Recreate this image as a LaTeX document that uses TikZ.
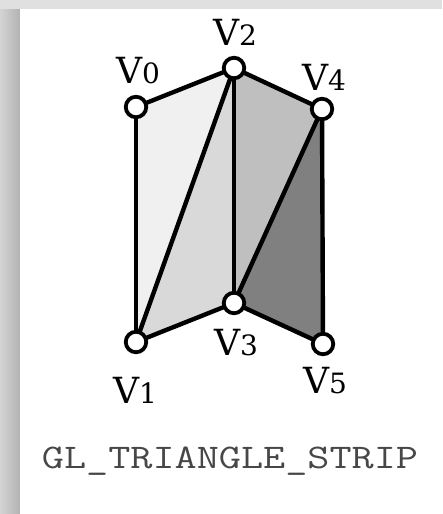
\documentclass[tikz,border=0pt]{standalone}
\usepackage{fontspec}
\setmainfont{DejaVu Serif}
\begin{document}
\begin{tikzpicture}[x=1pt,y=-1pt,
  edge/.style={line width=4.4pt,line join=round,line cap=round},
  vert/.style={circle,draw=black,fill=white,line width=3.8pt,minimum size=20.5pt,inner sep=0pt},
  vlabel/.style={anchor=base,inner sep=0pt,text=black},
  tri/.style={draw=none}]
\useasboundingbox (0,0) rectangle (442,514);
% frame
\fill[black!12] (0,0) rectangle (442,514);
\shade[left color=black!17,right color=black!30] (0,9) rectangle (20,514);
\fill[white] (20,9) rectangle (442,514);
% vertex positions
\coordinate (p0) at (136,107);
\coordinate (p1) at (136,342);
\coordinate (p2) at (234,68);
\coordinate (p3) at (234,303);
\coordinate (p4) at (322,109);
\coordinate (p5) at (323,344);
% triangles
\fill[tri,fill=black!6]  (p0) -- (p1) -- (p2) -- cycle;
\fill[tri,fill=black!15] (p1) -- (p2) -- (p3) -- cycle;
\fill[tri,fill=black!25] (p2) -- (p3) -- (p4) -- cycle;
\fill[tri,fill=black!50] (p3) -- (p4) -- (p5) -- cycle;
% edges
\draw[edge] (p0) -- (p2);
\draw[edge] (p2) -- (p4);
\draw[edge] (p0) -- (p1);
\draw[edge] (p1) -- (p2);
\draw[edge] (p2) -- (p3);
\draw[edge] (p1) -- (p3);
\draw[edge] (p3) -- (p4);
\draw[edge] (p3) -- (p5);
\draw[edge] (p4) -- (p5);
% vertices
\node[vert] (v0) at (p0) {};
\node[vert] (v1) at (p1) {};
\node[vert] (v2) at (p2) {};
\node[vert] (v3) at (p3) {};
\node[vert] (v4) at (p4) {};
\node[vert] (v5) at (p5) {};
% labels
\newcommand{\vl}[1]{\fontsize{36}{36}\selectfont V\fontsize{28}{28}\selectfont #1}
\node[vlabel] (l0) at (138,83) {\vl{0}};
\node[vlabel] (l2) at (235,45) {\vl{2}};
\node[vlabel] (l4) at (324,90) {\vl{4}};
\node[vlabel] (l3) at (236,355) {\vl{3}};
\node[vlabel] (l1) at (135,403) {\vl{1}};
\node[vlabel] (l5) at (325,393) {\vl{5}};
% caption
\node[anchor=base,inner sep=0pt,text=black!72,xscale=1.245] (cap) at (230,468) {\fontsize{34.5}{34.5}\selectfont\ttfamily GL\_TRIANGLE\_STRIP};
\end{tikzpicture}
\end{document}
